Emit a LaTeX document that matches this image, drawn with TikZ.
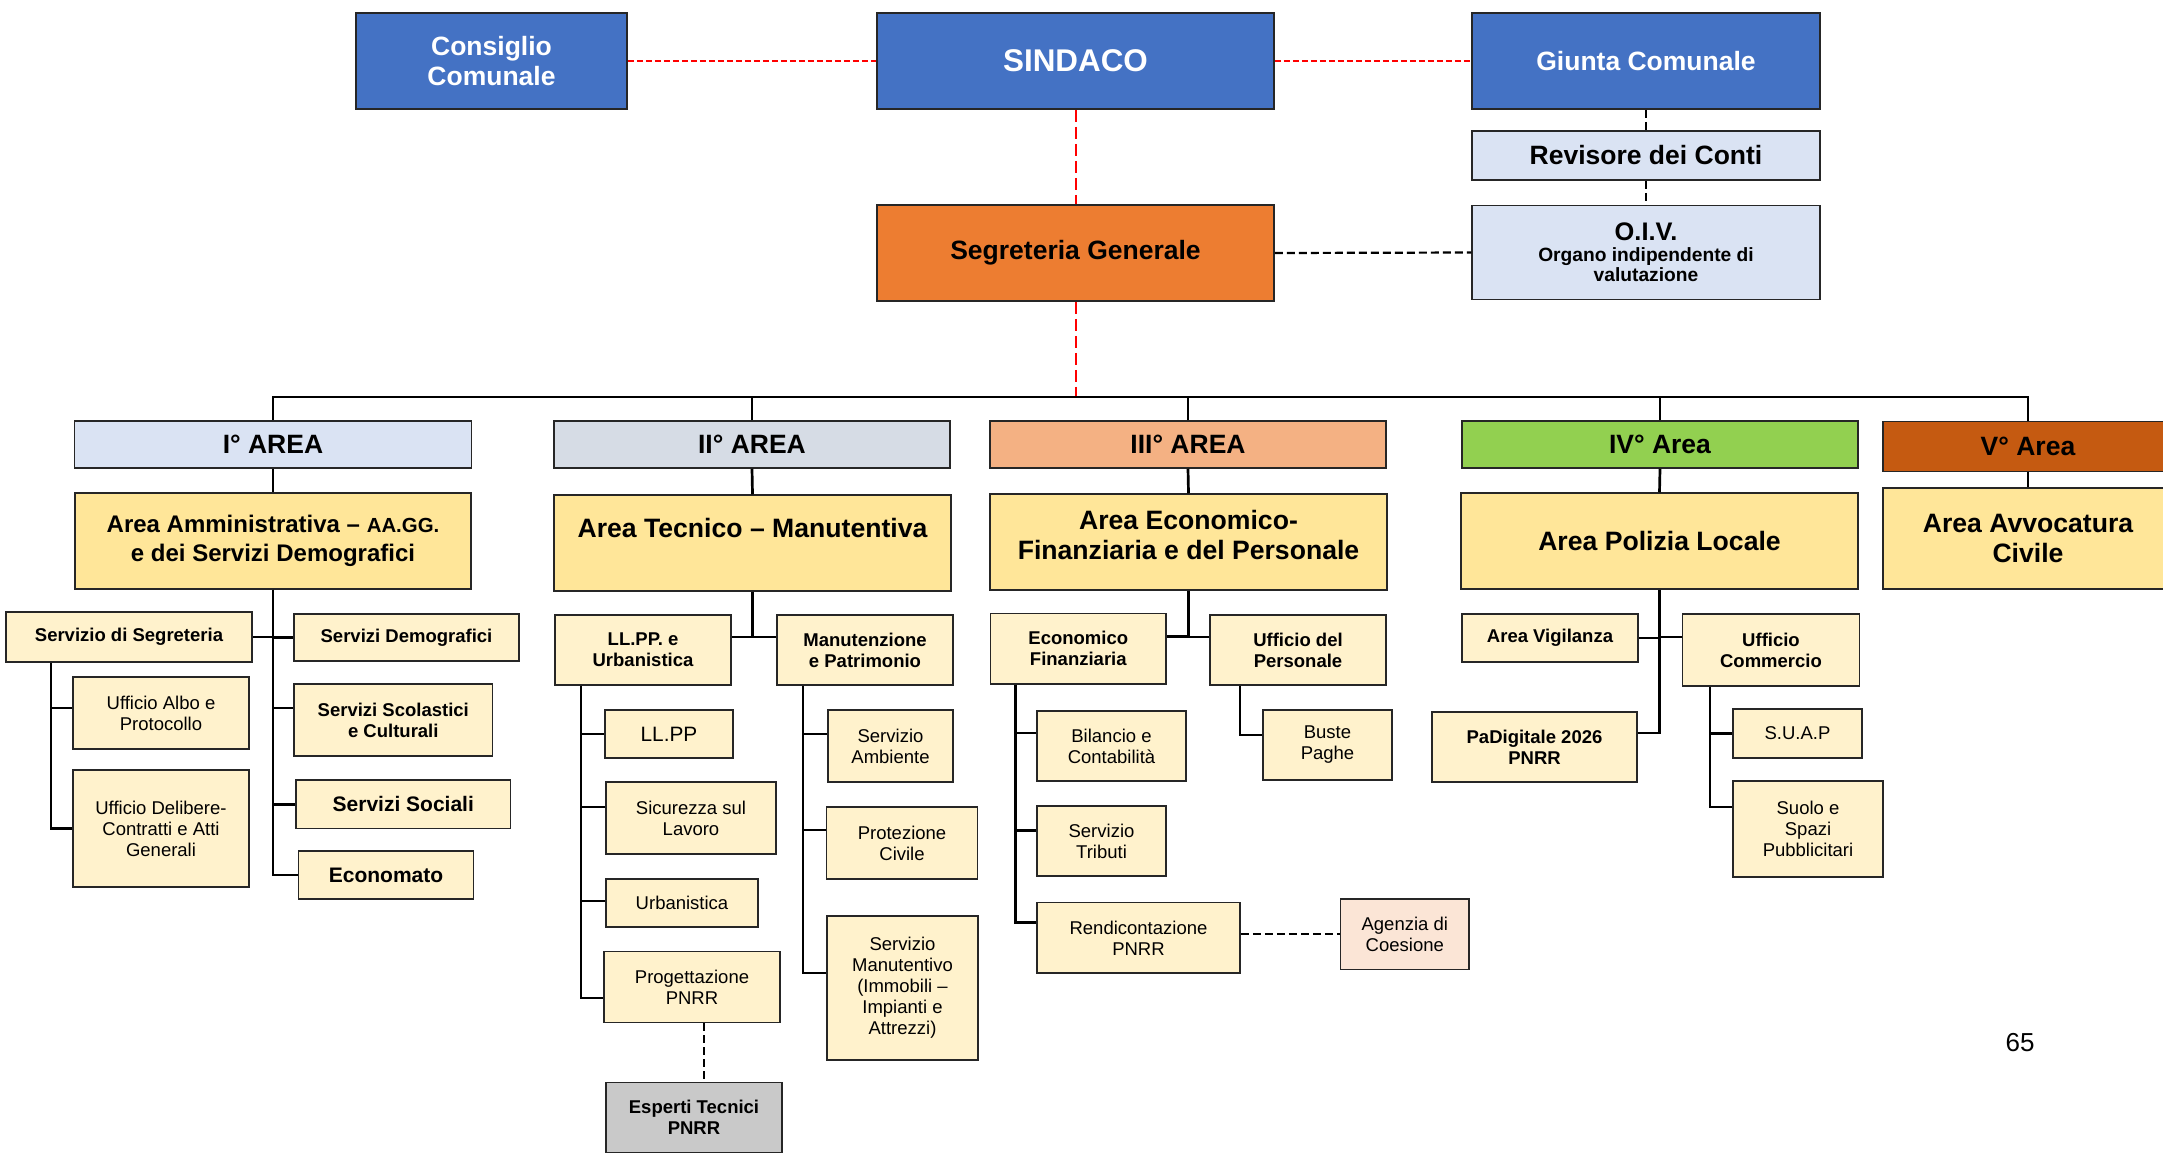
\documentclass[tikz,border=0pt]{standalone}
\usepackage{fontspec}
\setmainfont{Liberation Sans}
\usepackage{tikz}

\definecolor{blu}{HTML}{4472C4}
\definecolor{arancio}{HTML}{ED7D31}
\definecolor{celeste}{HTML}{DAE3F3}
\definecolor{grigioblu}{HTML}{D6DCE5}
\definecolor{salmone}{HTML}{F4B183}
\definecolor{verde}{HTML}{92D050}
\definecolor{ruggine}{HTML}{C55A11}
\definecolor{giallo}{HTML}{FFE699}
\definecolor{crema}{HTML}{FFF2CC}
\definecolor{grigio}{HTML}{C9C9C9}
\definecolor{rosa}{HTML}{FBE5D6}
\definecolor{bordo}{HTML}{262626}

\begin{document}
\begin{tikzpicture}[x=0.5pt, y=-0.5pt,
  box/.style={draw=bordo, line width=0.75pt, inner sep=0pt, align=center},
  wh/.style 2 args={minimum width=#1pt, minimum height=#2pt},
  ftop/.style={font=\fontsize{13.25}{15.4}\selectfont\bfseries},
  topbox/.style={box, fill=blu, text=white, ftop},
  testa/.style={box, ftop},
  areabox/.style={box, fill=giallo, font=\fontsize{13.3}{15}\selectfont\bfseries},
  subb/.style={box, fill=crema, font=\fontsize{9.25}{10.5}\selectfont\bfseries},
  subr/.style={box, fill=crema, font=\fontsize{9.25}{10.5}\selectfont},
  subg/.style={box, fill=crema, font=\fontsize{10.5}{12}\selectfont\bfseries},
  conn/.style={draw=black, line width=1.35pt},
  rtratt/.style={draw=red, line width=1pt, dash pattern=on 6pt off 2.5pt},
  rpunt/.style={draw=red, line width=1.1pt, dash pattern=on 3pt off 1.5pt},
  ntratt/.style={draw=black, line width=1.1pt, dash pattern=on 4pt off 2pt}]
\useasboundingbox (0,0) rectangle (2163,1152);

% vertice
\node[topbox, wh={135.5}{48}] (cons) at (491.5,61) {Consiglio\\Comunale};
\node[topbox, wh={198.5}{48}, font=\fontsize{15.7}{18}\selectfont\bfseries] (sind) at (1075.5,61) {SINDACO};
\node[topbox, wh={174}{48}] (giunta) at (1646,61) {Giunta Comunale};
\node[box, ftop, fill=celeste, wh={174}{24.5}] (rev) at (1646,155.5) {Revisore dei Conti};
\node[box, fill=celeste, wh={174}{47}, font=\fontsize{9.6}{10.3}\selectfont\bfseries] (oiv) at (1646,252.5) {{\fontsize{12.7}{13}\selectfont O.I.V.}\\Organo indipendente di\\valutazione};
\node[box, ftop, fill=arancio, wh={198.5}{48}] (segr) at (1075.5,253) {Segreteria Generale};
\coordinate (bus) at (1075.5,397);

% aree
\node[testa, fill=celeste, wh={198.5}{23.5}] (h1) at (273,444.5) {I° AREA};
\node[testa, fill=grigioblu, wh={198}{23.5}] (h2) at (752,444.5) {II° AREA};
\node[testa, fill=salmone, wh={198}{23.5}] (h3) at (1188,444.5) {III° AREA};
\node[testa, fill=verde, wh={198}{23.5}] (h4) at (1660,444.5) {IV° Area};
\node[testa, fill=ruggine, wh={145}{25}] (h5) at (2028,446.5) {V° Area};

\node[areabox, wh={198}{48}, font=\fontsize{12}{14.5}\selectfont\bfseries] (m1) at (273,541) {Area Amministrativa – {\fontsize{10.2}{14.5}\selectfont AA.GG.}\\e dei Servizi Demografici};
\node[areabox, wh={198.5}{48}] (m2) at (752.5,543) {Area Tecnico – Manutentiva\\\mbox{}};
\node[areabox, wh={198.5}{48}] (m3) at (1188.5,542) {Area Economico-\\Finanziaria e del Personale\\[-8pt]\mbox{}};
\node[areabox, wh={198.5}{48}] (m4) at (1659.5,541) {Area Polizia Locale};
\node[areabox, wh={145}{50.5}] (m5) at (2028,538.5) {Area Avvocatura\\Civile};

% I area
\node[subb, wh={123}{25}] (seg1) at (129,637) {Servizio di Segreteria};
\node[subb, wh={112.5}{23.5}] (dem) at (406.5,637.3) {Servizi Demografici};
\node[subr, wh={88}{36}] (albo) at (161,713) {Ufficio Albo e\\Protocollo};
\node[subr, wh={88}{58.5}] (delib) at (161,828.5) {Ufficio Delibere-\\Contratti e Atti\\Generali};
\node[subb, wh={99.3}{36}] (scol) at (393.3,720) {Servizi Scolastici\\e Culturali};
\node[subg, wh={107.3}{24.3}] (soc) at (403.3,804.3) {Servizi Sociali};
\node[subg, wh={87.3}{24.2}] (econ) at (386,875) {Economato};

% II area
\node[subb, wh={88}{35}] (ll) at (643,650) {LL.PP. e\\Urbanistica};
\node[subb, wh={88}{35}] (man) at (865,650) {Manutenzione\\e Patrimonio};
\node[subr, wh={64}{24}, font=\fontsize{10.4}{12}\selectfont] (llpp) at (669,734) {LL.PP};
\node[subr, wh={85}{36}] (sic) at (691,818) {Sicurezza sul\\Lavoro};
\node[subr, wh={76}{24}] (urb) at (682,903) {Urbanistica};
\node[subr, wh={88}{35.5}] (prog) at (692,987) {Progettazione\\PNRR};
\node[subb, fill=grigio, wh={88}{35}] (esp) at (694,1117.5) {Esperti Tecnici\\PNRR};
\node[subr, wh={62.5}{36}] (amb) at (890.5,746) {Servizio\\Ambiente};
\node[subr, wh={75.5}{36}] (prot) at (902,843) {Protezione\\Civile};
\node[subr, wh={75.5}{72}] (smt) at (902.5,988) {Servizio\\Manutentivo\\(Immobili –\\Impianti e\\Attrezzi)};

% III area
\node[subb, wh={87.7}{35.3}] (ef) at (1078.3,648.8) {Economico\\Finanziaria};
\node[subb, wh={88}{35}] (up) at (1298,650) {Ufficio del\\Personale};
\node[subr, wh={74.5}{35}] (bil) at (1111.5,746) {Bilancio e\\Contabilità};
\node[subr, wh={64.5}{35}] (trib) at (1101.5,841) {Servizio\\Tributi};
\node[subr, wh={101.5}{35.3}] (rend) at (1138.5,937.8) {Rendicontazione\\PNRR};
\node[subr, fill=rosa, wh={64.2}{35.3}] (ag) at (1404.8,934.3) {Agenzia di\\Coesione};
\node[subr, wh={64.5}{35}] (bp) at (1327.5,745) {Buste\\Paghe};

% IV area
\node[subb, wh={88}{24}] (vig) at (1550,638) {Area Vigilanza};
\node[subb, wh={88.3}{36}] (com) at (1771,650) {Ufficio\\Commercio};
\node[subb, wh={102.5}{35}] (pad) at (1534.5,747) {PaDigitale 2026\\PNRR};
\node[subr, wh={64.5}{24.5}] (suap) at (1797.5,733.5) {S.U.A.P};
\node[subr, wh={75}{48}] (suolo) at (1808,829) {Suolo e\\Spazi\\Pubblicitari};

\node[font=\fontsize{13}{15}\selectfont] (pag) at (2020,1043) {65};

% collegamenti
\draw[rpunt] (cons.east) -- (sind.west);
\draw[rpunt] (sind.east) -- (giunta.west);
\draw[rtratt] (sind.south) -- (segr.north);
\draw[rtratt] (segr.south) -- (bus);
\draw[ntratt] (giunta.south) -- (rev.north);
\draw[ntratt] (rev.south) -- (oiv.north);
\draw[ntratt] (segr.east) -- (oiv.west);

\draw[conn] (h1.north) |- (bus) -| (h5.north);
\draw[conn] (h2.north) -- (h2.north |- bus);
\draw[conn] (h3.north) -- (h3.north |- bus);
\draw[conn] (h4.north) -- (h4.north |- bus);
\draw[conn] (h1.south) -- (m1.north);
\draw[conn] (h2.south) -- (m2.north);
\draw[conn] (h3.south) -- (m3.north);
\draw[conn] (h4.south) -- (m4.north);
\draw[conn] (h5.south) -- (m5.north);

\draw[conn] (m1.south) |- (seg1.east);
\draw[conn] (m1.south) |- (dem.west);
\draw[conn] (m1.south) |- ([yshift=6pt]scol.west);
\draw[conn] (m1.south) |- (soc.west);
\draw[conn] (m1.south) |- (econ.west);
\draw[conn] ([xshift=-39pt]seg1.south) |- ([yshift=2.5pt]albo.west);
\draw[conn] ([xshift=-39pt]seg1.south) |- (delib.west);

\draw[conn] (m2.south) |- ([yshift=6.5pt]ll.east);
\draw[conn] (m2.south) |- ([yshift=6.5pt]man.west);
\draw[conn] ([xshift=-31pt]ll.south) |- (llpp.west);
\draw[conn] ([xshift=-31pt]ll.south) |- ([yshift=5.5pt]sic.west);
\draw[conn] ([xshift=-31pt]ll.south) |- ([yshift=1pt]urb.west);
\draw[conn] ([xshift=-31pt]ll.south) |- ([yshift=-5.5pt]prog.west);
\draw[ntratt] ([xshift=6pt]prog.south) -- ([xshift=5pt]esp.north);
\draw[conn] ([xshift=-31pt]man.south) |- ([yshift=6pt]amb.west);
\draw[conn] ([xshift=-31pt]man.south) |- ([yshift=6.5pt]prot.west);
\draw[conn] ([xshift=-31pt]man.south) |- ([yshift=7.5pt]smt.west);

\draw[conn] (m3.south) |- ([yshift=6pt]ef.east);
\draw[conn] (m3.south) |- ([yshift=6.5pt]up.west);
\draw[conn] ([xshift=-31.5pt]ef.south) |- ([yshift=6.5pt]bil.west);
\draw[conn] ([xshift=-31.5pt]ef.south) |- ([yshift=5.25pt]trib.west);
\draw[conn] ([xshift=-31.5pt]ef.south) |- ([yshift=7.5pt]rend.west);
\draw[ntratt] (ag.west -| rend.east) -- (ag.west);
\draw[conn] ([xshift=-29pt]up.south) |- ([yshift=5pt]bp.west);

\draw[conn] (m4.south) |- (vig.east);
\draw[conn] (m4.south) |- ([yshift=6.5pt]com.west);
\draw[conn] (m4.south) |- ([yshift=7pt]pad.east);
\draw[conn] ([xshift=-30.5pt]com.south) |- (suap.west);
\draw[conn] ([xshift=-30.5pt]com.south) |- ([yshift=11pt]suolo.west);
\end{tikzpicture}
\end{document}
